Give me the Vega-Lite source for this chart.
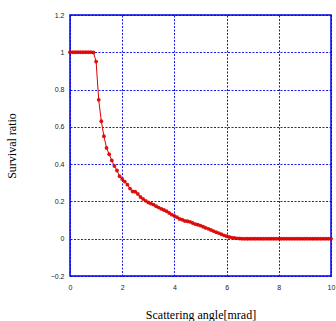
{
  "$schema": "https://vega.github.io/schema/vega-lite/v6.json",
  "width": 261,
  "height": 261,
  "autosize": {"type": "none"},
  "padding": {"left": 70, "top": 15, "right": 5, "bottom": 45},
  "background": "white",
  "config": {
    "view": {"stroke": "#0000ee", "strokeWidth": 1.5},
    "axis": {
      "grid": true,
      "gridColor": "#0000ee",
      "gridDash": [2, 1.5],
      "gridWidth": 1,
      "gridOpacity": 0.9,
      "domain": false,
      "ticks": false,
      "labelFont": "Liberation Sans",
      "labelFontSize": 7,
      "labelColor": "#222222",
      "titleFont": "Liberation Serif",
      "titleFontSize": 12,
      "titleFontWeight": "normal",
      "titleColor": "#000000"
    }
  },
  "data": {
    "values": [
      {"x": 0.0, "y": 1.0}, {"x": 0.1, "y": 1.0}, {"x": 0.2, "y": 1.0}, {"x": 0.3, "y": 1.0},
      {"x": 0.4, "y": 1.0}, {"x": 0.5, "y": 1.0}, {"x": 0.6, "y": 1.0}, {"x": 0.7, "y": 1.0},
      {"x": 0.8, "y": 1.0}, {"x": 0.9, "y": 0.999}, {"x": 1.0, "y": 0.95}, {"x": 1.1, "y": 0.745},
      {"x": 1.2, "y": 0.63}, {"x": 1.3, "y": 0.55}, {"x": 1.4, "y": 0.487}, {"x": 1.5, "y": 0.453},
      {"x": 1.6, "y": 0.42}, {"x": 1.7, "y": 0.39}, {"x": 1.8, "y": 0.366}, {"x": 1.9, "y": 0.335},
      {"x": 2.0, "y": 0.32}, {"x": 2.1, "y": 0.306}, {"x": 2.2, "y": 0.29}, {"x": 2.3, "y": 0.269},
      {"x": 2.4, "y": 0.253}, {"x": 2.5, "y": 0.252}, {"x": 2.6, "y": 0.24}, {"x": 2.7, "y": 0.224},
      {"x": 2.8, "y": 0.213}, {"x": 2.9, "y": 0.203}, {"x": 3.0, "y": 0.194}, {"x": 3.1, "y": 0.188},
      {"x": 3.2, "y": 0.183}, {"x": 3.3, "y": 0.174}, {"x": 3.4, "y": 0.167}, {"x": 3.5, "y": 0.16},
      {"x": 3.6, "y": 0.154}, {"x": 3.7, "y": 0.147}, {"x": 3.8, "y": 0.138}, {"x": 3.9, "y": 0.129},
      {"x": 4.0, "y": 0.122}, {"x": 4.1, "y": 0.115}, {"x": 4.2, "y": 0.106}, {"x": 4.3, "y": 0.102},
      {"x": 4.4, "y": 0.095}, {"x": 4.5, "y": 0.094}, {"x": 4.6, "y": 0.09}, {"x": 4.7, "y": 0.084},
      {"x": 4.8, "y": 0.078}, {"x": 4.9, "y": 0.075}, {"x": 5.0, "y": 0.07}, {"x": 5.1, "y": 0.064},
      {"x": 5.2, "y": 0.058}, {"x": 5.3, "y": 0.053}, {"x": 5.4, "y": 0.047}, {"x": 5.5, "y": 0.041},
      {"x": 5.6, "y": 0.035}, {"x": 5.7, "y": 0.03}, {"x": 5.8, "y": 0.024}, {"x": 5.9, "y": 0.018},
      {"x": 6.0, "y": 0.013}, {"x": 6.1, "y": 0.009}, {"x": 6.2, "y": 0.006}, {"x": 6.3, "y": 0.004},
      {"x": 6.4, "y": 0.002}, {"x": 6.5, "y": 0.001}, {"x": 6.6, "y": 0.0}, {"x": 6.7, "y": 0.0},
      {"x": 6.8, "y": 0.0}, {"x": 6.9, "y": 0.0}, {"x": 7.0, "y": 0.0}, {"x": 7.1, "y": 0.0},
      {"x": 7.2, "y": 0.0}, {"x": 7.3, "y": 0.0}, {"x": 7.4, "y": 0.0}, {"x": 7.5, "y": 0.0},
      {"x": 7.6, "y": 0.0}, {"x": 7.7, "y": 0.0}, {"x": 7.8, "y": 0.0}, {"x": 7.9, "y": 0.0},
      {"x": 8.0, "y": 0.0}, {"x": 8.1, "y": 0.0}, {"x": 8.2, "y": 0.0}, {"x": 8.3, "y": 0.0},
      {"x": 8.4, "y": 0.0}, {"x": 8.5, "y": 0.0}, {"x": 8.6, "y": 0.0}, {"x": 8.7, "y": 0.0},
      {"x": 8.8, "y": 0.0}, {"x": 8.9, "y": 0.0}, {"x": 9.0, "y": 0.0}, {"x": 9.1, "y": 0.0},
      {"x": 9.2, "y": 0.0}, {"x": 9.3, "y": 0.0}, {"x": 9.4, "y": 0.0}, {"x": 9.5, "y": 0.0},
      {"x": 9.6, "y": 0.0}, {"x": 9.7, "y": 0.0}, {"x": 9.8, "y": 0.0}, {"x": 9.9, "y": 0.0},
      {"x": 10.0, "y": 0.0}
    ]
  },
  "mark": {
    "type": "line",
    "color": "#dd0000",
    "strokeWidth": 1,
    "clip": false,
    "point": {"filled": true, "color": "#dd0000", "size": 15, "opacity": 0.9}
  },
  "encoding": {
    "x": {
      "field": "x",
      "type": "quantitative",
      "scale": {"domain": [0, 10], "nice": false, "zero": false},
      "axis": {
        "title": "Scattering angle[mrad]",
        "values": [0, 2, 4, 6, 8, 10],
        "format": "d",
        "labelPadding": 7,
        "titlePadding": 19,
        "labelFlush": false
      }
    },
    "y": {
      "field": "y",
      "type": "quantitative",
      "scale": {"domain": [-0.2, 1.2], "nice": false, "zero": false},
      "axis": {
        "title": "Survival ratio",
        "values": [-0.2, 0, 0.2, 0.4, 0.6, 0.8, 1, 1.2],
        "format": "~g",
        "labelPadding": 6,
        "titlePadding": 32,
        "labelFlush": false
      }
    }
  }
}
